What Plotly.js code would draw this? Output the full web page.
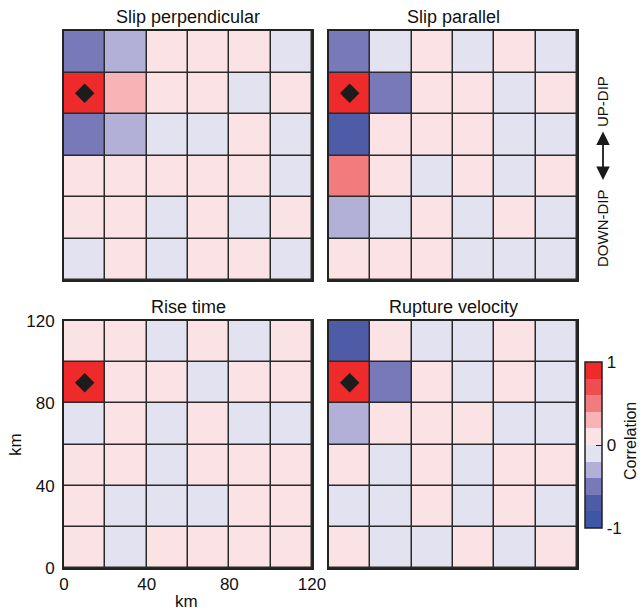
<!DOCTYPE html>
<html><head><meta charset="utf-8">
<script src="https://cdn.plot.ly/plotly-3.0.1.min.js"></script>
<style>html,body{margin:0;padding:0;background:#fff}</style>
</head><body><div id="chart" style="width:640px;height:613px"></div>
<script>
// Grid cell centres (km); rows listed top (up-dip) to bottom
const xCenters = [10, 30, 50, 70, 90, 110];
const yCenters = [110, 90, 70, 50, 30, 10];
const panelTitles = ["Slip perpendicular", "Slip parallel", "Rise time", "Rupture velocity"];

// Correlation values, rows top -> bottom
const slipPerpendicular = [
  [-0.5, -0.3, 0.1, 0.1, 0.1, -0.1],
  [ 0.9,  0.3, 0.1, 0.1, -0.1, 0.1],
  [-0.5, -0.3, -0.1, -0.1, 0.1, -0.1],
  [ 0.1,  0.1, 0.1, 0.1, 0.1, -0.1],
  [ 0.1,  0.1, -0.1, 0.1, -0.1, 0.1],
  [-0.1,  0.1, -0.1, 0.1, 0.1, -0.1]
];
const slipParallel = [
  [-0.5, -0.1, 0.1, -0.1, 0.1, -0.1],
  [ 0.9, -0.5, 0.1, 0.1, -0.1, 0.1],
  [-0.7,  0.1, 0.1, 0.1, -0.1, -0.1],
  [ 0.5,  0.1, -0.1, 0.1, -0.1, 0.1],
  [-0.3, -0.1, 0.1, -0.1, 0.1, -0.1],
  [ 0.1,  0.1, 0.1, -0.1, -0.1, -0.1]
];
const riseTime = [
  [ 0.1,  0.1, -0.1, 0.1, -0.1, 0.1],
  [ 0.9,  0.1, 0.1, -0.1, 0.1, 0.1],
  [-0.1,  0.1, -0.1, 0.1, -0.1, -0.1],
  [ 0.1,  0.1, -0.1, 0.1, 0.1, 0.1],
  [ 0.1, -0.1, -0.1, -0.1, 0.1, 0.1],
  [ 0.1, -0.1, 0.1, 0.1, 0.1, 0.1]
];
const ruptureVelocity = [
  [-0.7,  0.1, -0.1, -0.1, 0.1, -0.1],
  [ 0.9, -0.5, 0.1, -0.1, 0.1, -0.1],
  [-0.3,  0.1, 0.1, 0.1, -0.1, -0.1],
  [ 0.1, -0.1, 0.1, -0.1, 0.1, 0.1],
  [-0.1, -0.1, 0.1, -0.1, 0.1, -0.1],
  [ 0.1, -0.1, -0.1, 0.1, -0.1, 0.1]
];
const panelData = [slipPerpendicular, slipParallel, riseTime, ruptureVelocity];

// Hypocentre location
const hypoX = [10];
const hypoY = [90];

const axisTicks = [0, 40, 80, 120];
const cbTicks = [-1, 0, 1];
// 10 discrete colour bins from -1 to 1
const binColors = ['#3d56a6', '#4e5ca8', '#7779b9', '#b2b0d6', '#e3e2f0',
                   '#fbe2e5', '#f7b3b5', '#f27b7e', '#ef4e51', '#ee2a2b'];

const W = 640, H = 613;
const PX = p => p / W;
const PY = p => 1 - p / H;

const colorscale = [];
binColors.forEach((c, i) => {
  colorscale.push([i / binColors.length, c]);
  colorscale.push([(i + 1) / binColors.length, c]);
});

const font = 'Liberation Sans, Arial, Helvetica, sans-serif';
const domX = [[64, 312], [329, 577], [64, 312], [329, 577]];
const domY = [[31, 280], [31, 280], [321, 568], [321, 568]];

const traces = [];
const layout = {
  width: W, height: H,
  margin: {l: 0, r: 0, t: 0, b: 0},
  paper_bgcolor: '#fff',
  plot_bgcolor: '#2a2a2a',
  showlegend: false,
  font: {family: font, size: 17, color: '#111'},
  annotations: [],
  shapes: []
};

panelData.forEach((rows, i) => {
  const xa = i === 0 ? 'x' : 'x' + (i + 1);
  const ya = i === 0 ? 'y' : 'y' + (i + 1);
  const revRows = rows.slice().reverse();
  const revY = yCenters.slice().reverse();
  traces.push({
    type: 'heatmap', x: xCenters, y: revY, z: revRows,
    xaxis: xa, yaxis: ya,
    zmin: -1, zmax: 1, colorscale: colorscale,
    xgap: 1.5, ygap: 1.5,
    showscale: i === 3,
    hoverinfo: 'skip',
    colorbar: {
      x: PX(585), xanchor: 'left', xpad: 0,
      y: PY(445), yanchor: 'middle', ypad: 0,
      len: 166, lenmode: 'pixels',
      thickness: 17, thicknessmode: 'pixels',
      outlinewidth: 1.5, outlinecolor: '#222',
      tickmode: 'array', tickvals: cbTicks, ticktext: ['-1', '0', '1'],
      ticks: 'inside', ticklen: 6, tickcolor: '#222', tickwidth: 1,
      tickfont: {family: font, size: 17, color: '#111'},
      ticklabelposition: 'outside'
    }
  });
  traces.push({
    type: 'scatter', mode: 'markers', x: hypoX, y: hypoY,
    xaxis: xa, yaxis: ya, hoverinfo: 'skip',
    marker: {symbol: 'diamond', size: 15, color: '#1c1c1c', line: {width: 0}}
  });
  const showLbl = i === 2;
  const xKey = i === 0 ? 'xaxis' : 'xaxis' + (i + 1);
  const yKey = i === 0 ? 'yaxis' : 'yaxis' + (i + 1);
  layout[xKey] = {
    domain: [PX(domX[i][0]), PX(domX[i][1])], anchor: ya,
    range: [0, 120], tickmode: 'array', tickvals: axisTicks,
    showticklabels: showLbl, ticks: '', showgrid: false, zeroline: false,
    showline: true, mirror: true, linecolor: '#222', linewidth: 2,
    tickfont: {family: font, size: 17, color: '#111'}, ticklabelstandoff: 0
  };
  layout[yKey] = {
    domain: [PY(domY[i][1]), PY(domY[i][0])], anchor: xa,
    range: [0, 120], tickmode: 'array', tickvals: axisTicks,
    showticklabels: showLbl, ticks: '', showgrid: false, zeroline: false,
    showline: true, mirror: true, linecolor: '#222', linewidth: 2,
    tickfont: {family: font, size: 17, color: '#111'}, ticklabelstandoff: 4
  };
  layout.annotations.push({
    text: panelTitles[i], xref: 'paper', yref: 'paper',
    x: PX((domX[i][0] + domX[i][1]) / 2), y: PY(domY[i][0] - 14),
    xanchor: 'center', yanchor: 'middle', showarrow: false,
    font: {family: font, size: 18, color: '#111'}
  });
});

// axis titles
layout.annotations.push({text: 'km', xref: 'paper', yref: 'paper',
  x: PX(186), y: PY(601), xanchor: 'center', yanchor: 'middle', showarrow: false,
  font: {family: font, size: 17, color: '#111'}});
layout.annotations.push({text: 'km', xref: 'paper', yref: 'paper',
  x: PX(15), y: PY(445), xanchor: 'center', yanchor: 'middle', showarrow: false,
  textangle: -90, font: {family: font, size: 17, color: '#111'}});
// colour bar title
layout.annotations.push({text: 'Correlation', xref: 'paper', yref: 'paper',
  x: PX(630), y: PY(441), xanchor: 'center', yanchor: 'middle', showarrow: false,
  textangle: -90, font: {family: font, size: 16, color: '#111'}});
// dip direction labels
layout.annotations.push({text: 'UP-DIP', xref: 'paper', yref: 'paper',
  x: PX(603), y: PY(102), xanchor: 'center', yanchor: 'middle', showarrow: false,
  textangle: -90, font: {family: font, size: 15, color: '#111'}});
layout.annotations.push({text: 'DOWN-DIP', xref: 'paper', yref: 'paper',
  x: PX(603), y: PY(228), xanchor: 'center', yanchor: 'middle', showarrow: false,
  textangle: -90, font: {family: font, size: 15, color: '#111'}});
layout.annotations.push({text: '', xref: 'paper', yref: 'paper',
  x: PX(603), y: PY(180), ax: 0, ay: -50, showarrow: true,
  arrowside: 'end+start', arrowhead: 2, arrowsize: 1.5, arrowwidth: 1.8, arrowcolor: '#1a1a1a'});

Plotly.newPlot('chart', traces, layout, {displayModeBar: false, staticPlot: true});
</script>
</body></html>
